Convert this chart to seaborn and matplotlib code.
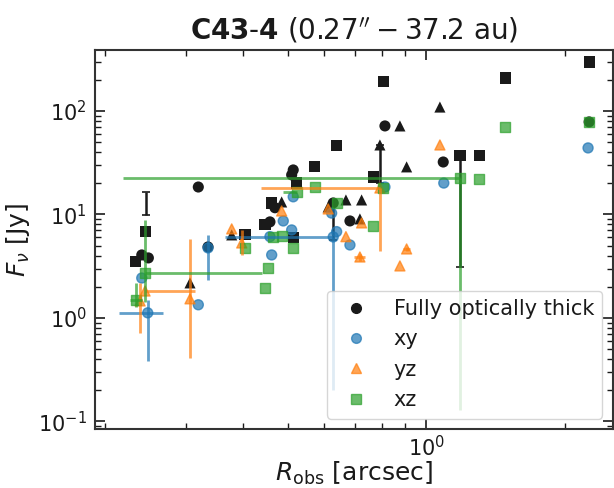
import numpy as np
import pandas as pd
import matplotlib
matplotlib.use("Agg")
import matplotlib.pyplot as plt
import seaborn as sns
from matplotlib.lines import Line2D
from matplotlib.ticker import NullFormatter, LogLocator

# --- fully optically thick (black), marker shape follows the projection ---
thick_proj = (["xy"] * 13) + (["yz"] * 11) + (["xz"] * 15)
thick_r = [0.2404, 0.2485, 0.3191, 0.3350, 0.4568, 0.5133, 0.5093, 0.6271, 0.6819, 0.8125, 1.088, 2.259, 0.4685,
           0.3061, 0.3772, 0.4844, 0.6115, 0.6683, 0.7229, 0.7168, 0.7923, 0.9057, 0.8758, 1.070,
           0.2325, 0.2453, 0.4032, 0.4456, 0.4608, 0.5133, 0.5221, 0.5722, 0.6379, 0.7660, 0.8055, 1.183, 1.302, 1.486, 2.259]
thick_f = [4.06, 3.80, 18.4, 4.85, 8.47, 26.9, 24.1, 12.9, 8.65, 71.6, 32.1, 78.3, 11.6,
           2.18, 6.34, 13.2, 11.8, 13.8, 13.8, 9.05, 46.9, 28.8, 71.6, 109,
           3.48, 6.82, 6.34, 7.92, 12.9, 5.93, 20.1, 28.8, 45.9, 23.0, 191, 36.8, 36.8, 208, 297]

# --- projections (coloured) ---
xy_r = [0.2404, 0.2477, 0.3191, 0.3350, 0.4608, 0.4568, 0.4883, 0.5093, 0.5133, 0.6221, 0.6379, 0.6271, 0.6819, 0.8125, 1.091, 2.247]
xy_f = [2.43, 1.12, 1.34, 4.75, 4.06, 6.10, 8.65, 7.08, 14.8, 10.3, 6.82, 6.06, 5.07, 18.4, 20.1, 43.9]

yz_r = [0.2384, 0.2444, 0.3061, 0.3772, 0.3966, 0.4844, 0.6115, 0.6683, 0.7229, 0.7168, 0.7923, 0.9057, 0.8758, 1.070]
yz_f = [1.46, 1.82, 1.53, 7.25, 5.30, 10.8, 11.3, 6.10, 8.28, 3.88, 18.0, 4.64, 3.18, 46.9]

xz_r = [0.2333, 0.2444, 0.4032, 0.4637, 0.4844, 0.5133, 0.4530, 0.4456, 0.5221, 0.5722, 0.6379, 0.7637, 0.8055, 1.183, 1.302, 1.481, 2.259]
xz_f = [1.49, 2.72, 4.75, 6.10, 6.17, 4.75, 3.04, 1.95, 16.5, 18.4, 12.9, 7.74, 18.0, 22.5, 22.0, 70.0, 78.3]

# --- error bars: r, f, x-low, x-high, y-low, y-high ---
xy_err_r = [0.2477, 0.3350, 0.6271]
xy_err_f = [1.12, 4.75, 6.06]
xy_err_xlo = [0.033, 0.0, 0.262]
xy_err_xhi = [0.020, 0.0, 0.0]
xy_err_ylo = [0.74, 2.42, 5.86]
xy_err_yhi = [0.37, 1.59, 0.0]

yz_err_r = [0.2384, 0.2444, 0.3061, 0.3966, 0.7168, 0.7923, 0.9057]
yz_err_f = [1.46, 1.82, 1.53, 5.30, 3.88, 18.0, 4.64]
yz_err_xlo = [0.0, 0.0, 0.0, 0.0, 0.02, 0.356, 0.015]
yz_err_xhi = [0.0, 0.0695, 0.0, 0.0, 0.02, 0.0, 0.015]
yz_err_ylo = [0.74, 0.0, 1.12, 1.24, 0.3, 13.6, 0.25]
yz_err_yhi = [0.72, 0.0, 4.27, 1.78, 0.3, 0.0, 0.25]

xz_err_r = [0.2333, 0.2444, 0.5221, 1.183]
xz_err_f = [1.49, 2.72, 16.5, 22.5]
xz_err_xlo = [0.0067, 0.0, 0.034, 0.964]
xz_err_xhi = [0.007, 0.195, 0.0, 0.0]
xz_err_ylo = [0.21, 1.3, 0.0, 22.37]
xz_err_yhi = [0.69, 6.13, 0.0, 0.0]

thick_err_r = [0.2453, 0.6271, 0.7923, 1.183]
thick_err_f = [13.2, 12.9, 46.9, 36.8]
thick_err_ylo = [3.3, 7.2, 26.8, 33.7]
thick_err_yhi = [3.3, 0.0, 0.0, 0.0]

markers = {"xy": "o", "yz": "^", "xz": "s"}
colors = {"xy": "#1f77b4", "yz": "#ff7f0e", "xz": "#2ca02c"}

sns.set_theme(style="ticks")
plt.rcParams["font.family"] = ["DejaVu Sans"]
plt.rcParams["mathtext.fontset"] = "dejavusans"
plt.rcParams["text.color"] = "k"
plt.rcParams["axes.labelcolor"] = "k"
plt.rcParams["xtick.color"] = "k"
plt.rcParams["ytick.color"] = "k"

fig = plt.figure(figsize=(6.14, 4.88), dpi=100)
ax = fig.add_axes([0.1547, 0.121, 0.8433, 0.7766])

thick_df = pd.DataFrame({"r": thick_r, "f": thick_f, "proj": thick_proj})
sns.scatterplot(data=thick_df, x="r", y="f", style="proj", markers=markers, color="k",
                s=64, linewidth=0, legend=False, ax=ax, zorder=2)

# black error bars (one without marker, the others hang below the point)
for r, f, lo, hi in zip(thick_err_r, thick_err_f, thick_err_ylo, thick_err_yhi):
    ax.errorbar([r], [f], yerr=[[lo], [hi]], fmt="none", ecolor="k", elinewidth=1.8,
                capsize=3, capthick=1.2, zorder=3)

proj_df = pd.DataFrame({
    "r": xy_r + yz_r + xz_r,
    "f": xy_f + yz_f + xz_f,
    "proj": ["xy"] * len(xy_r) + ["yz"] * len(yz_r) + ["xz"] * len(xz_r),
})
sns.scatterplot(data=proj_df, x="r", y="f", hue="proj", style="proj", markers=markers,
                palette=colors, s=52, alpha=0.7, edgecolor="face", linewidth=1.0,
                legend=False, ax=ax, zorder=4)

for key, er, ef, xlo, xhi, ylo, yhi in [
    ("xy", xy_err_r, xy_err_f, xy_err_xlo, xy_err_xhi, xy_err_ylo, xy_err_yhi),
    ("yz", yz_err_r, yz_err_f, yz_err_xlo, yz_err_xhi, yz_err_ylo, yz_err_yhi),
    ("xz", xz_err_r, xz_err_f, xz_err_xlo, xz_err_xhi, xz_err_ylo, xz_err_yhi),
]:
    ax.errorbar(er, ef, xerr=[xlo, xhi], yerr=[ylo, yhi], fmt="none",
                ecolor=colors[key], elinewidth=2, alpha=0.7, zorder=5)

ax.set_xscale("log")
ax.set_yscale("log")
ax.set_xlim(0.1902, 2.543)
ax.set_ylim(0.0846, 388)
ax.xaxis.set_minor_locator(LogLocator(base=10, subs=np.arange(2, 10), numticks=20))
ax.yaxis.set_minor_locator(LogLocator(base=10, subs=np.arange(2, 10), numticks=20))
ax.xaxis.set_minor_formatter(NullFormatter())
ax.yaxis.set_minor_formatter(NullFormatter())

ax.tick_params(which="both", direction="in", top=True, right=True, labelsize=15)
ax.tick_params(axis="y", pad=6)
ax.tick_params(axis="x", pad=4)
ax.tick_params(which="major", length=7, width=1.2)
ax.tick_params(which="minor", length=4, width=1)
for sp in ax.spines.values():
    sp.set_linewidth(1.5)
    sp.set_color("#333333")

ax.set_xlabel(r"$R_{\rm obs}$ [arcsec]", fontsize=18, labelpad=0)
ax.set_ylabel(r"$F_\nu$ [Jy]", fontsize=18)
ax.set_title(r"$\mathbf{C43}$" + "\u2010" + r"$\mathbf{4}$ $(0.27^{\prime\prime} - 37.2$ au$)$",
             fontsize=20, pad=8)

handles = [
    Line2D([], [], marker="o", color="k", ls="none", markersize=7, label="Fully optically thick"),
    Line2D([], [], marker="o", color=colors["xy"], alpha=0.7, ls="none", markersize=7, label="xy"),
    Line2D([], [], marker="^", color=colors["yz"], alpha=0.7, ls="none", markersize=7, label="yz"),
    Line2D([], [], marker="s", color=colors["xz"], alpha=0.7, ls="none", markersize=7, label="xz"),
]
ax.legend(handles=handles, loc="lower right", fontsize=15, framealpha=0.8,
          labelspacing=0.5, borderaxespad=0.5)

fig.savefig("out.png", dpi=100)
